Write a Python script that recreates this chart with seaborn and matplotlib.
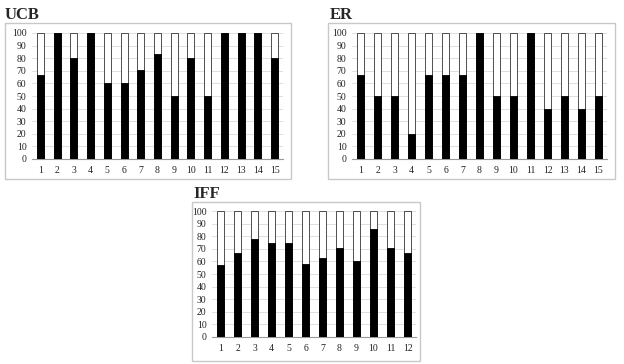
import numpy as np
import pandas as pd
import seaborn as sns
import matplotlib.pyplot as plt
from matplotlib.patches import Rectangle

# values (percent, black part of each bar)
ucb_cats = [str(i) for i in range(1, 16)]
ucb_vals = [67, 100, 80, 100, 60, 60, 71, 83, 50, 80, 50, 100, 100, 100, 80]

er_cats = [str(i) for i in range(1, 16)]
er_vals = [67, 50, 50, 20, 67, 67, 67, 100, 50, 50, 100, 40, 50, 40, 50]

iff_cats = [str(i) for i in range(1, 13)]
iff_vals = [57, 67, 78, 75, 75, 58, 63, 71, 60, 86, 71, 67]

yticks = list(range(0, 101, 10))

sns.set_theme(style="white")
plt.rcParams['font.family'] = ['Liberation Serif', 'DejaVu Serif']

W, H = 624, 364
fig = plt.figure(figsize=(W / 100, H / 100), dpi=100)


def px_axes(l, t, r, b):
    return fig.add_axes([l / W, 1 - b / H, (r - l) / W, (b - t) / H])


def px_box(l, t, r, b):
    fig.patches.append(Rectangle((l / W, 1 - b / H), (r - l) / W, (b - t) / H,
                                 transform=fig.transFigure, fill=False,
                                 edgecolor="#c8c8c8", linewidth=1.0))


def panel(ax, cats, vals, title, box, title_xy):
    df = pd.DataFrame({"cat": cats, "val": vals, "total": [100] * len(cats)})
    sns.barplot(data=df, x="cat", y="total", color="white", edgecolor="#333333",
                linewidth=0.6, width=0.42, ax=ax, zorder=2)
    sns.barplot(data=df, x="cat", y="val", color="black", edgecolor="black",
                linewidth=0.6, width=0.42, ax=ax, zorder=3)
    ax.set_ylim(0, 100)
    ax.set_xlim(-0.5, len(cats) - 0.5)
    ax.set_yticks(yticks)
    ax.set_xlabel("")
    ax.set_ylabel("")
    ax.tick_params(axis="y", labelsize=7, length=0, pad=4, colors="#222222")
    ax.tick_params(axis="x", labelsize=7, length=0, pad=5, colors="#222222")
    ax.yaxis.grid(True, color="#d9d9d9", linewidth=0.6, zorder=0)
    ax.set_axisbelow(True)
    for s in ["top", "right", "left"]:
        ax.spines[s].set_visible(False)
    ax.spines["bottom"].set_color("#999999")
    ax.spines["bottom"].set_linewidth(0.8)
    # small separator ticks between categories
    ax.set_xticks(np.arange(-0.5, len(cats) + 0.5), minor=True)
    ax.tick_params(axis="x", which="minor", length=3, color="#999999", width=0.6)
    ax.patch.set_alpha(0)
    px_box(*box)
    fig.text(title_xy[0] / W, 1 - title_xy[1] / H, title, fontsize=12,
             fontweight="bold", ha="left", va="baseline")


ax1 = px_axes(32, 33, 283, 159)
panel(ax1, ucb_cats, ucb_vals, "UCB", (5, 23, 291, 179), (5, 19))

ax2 = px_axes(352, 33, 607, 159)
panel(ax2, er_cats, er_vals, "ER", (328, 23, 615, 179), (330, 19))

ax3 = px_axes(212, 211, 416, 337)
panel(ax3, iff_cats, iff_vals, "IFF", (192, 202, 420, 361), (193, 198))

fig.savefig("out.png", dpi=100)
